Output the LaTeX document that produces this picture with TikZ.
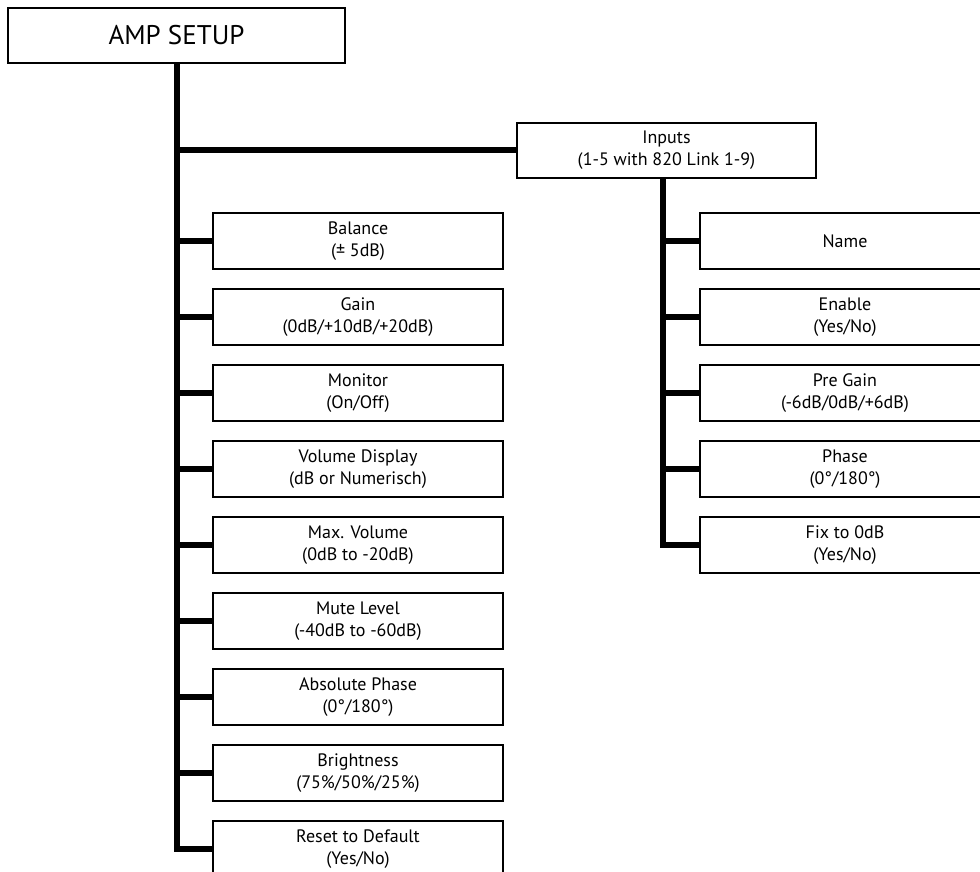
\documentclass[tikz,border=0pt]{standalone}
\usepackage{fontspec}
\setmainfont{PT Sans}
\usetikzlibrary{positioning}

\begin{document}
\begin{tikzpicture}[
  x=1pt, y=-1pt, node distance=20pt,
  box/.style={draw,line width=1.6pt,outer sep=0pt,inner sep=0pt,align=center,minimum width=290pt,minimum height=56pt,font=\fontsize{18}{22}\selectfont},
  link/.style={line width=6pt}]
\useasboundingbox (0,0) rectangle (980,872);
\clip (0,0) rectangle (980,872);
\node[box,minimum width=337pt,minimum height=55pt,font=\fontsize{27}{32}\selectfont] (amp) at (176.5,35.5) {AMP SETUP};
\node[box,minimum width=299pt,minimum height=55pt] (inputs) at (666.5,150.5) {Inputs\\(1-5 with 820 Link 1-9)};
% left column
\node[box] (bal) at (358,241) {Balance\\(± 5dB)};
\node[box,below=of bal] (gain) {Gain\\(0dB/+10dB/+20dB)};
\node[box,below=of gain] (mon) {Monitor\\(On/Off)};
\node[box,below=of mon] (voldisp) {Volume Display\\(dB or Numerisch)};
\node[box,below=of voldisp] (maxvol) {Max. Volume\\(0dB to -20dB)};
\node[box,below=of maxvol] (mute) {Mute Level\\(-40dB to -60dB)};
\node[box,below=of mute] (absph) {Absolute Phase\\(0°/180°)};
\node[box,below=of absph] (bright) {Brightness\\(75\%/50\%/25\%)};
\node[box,below=of bright] (reset) {Reset to Default\\(Yes/No)};
% right column
\node[box] (name) at (845,241) {Name};
\node[box,below=of name] (enable) {Enable\\(Yes/No)};
\node[box,below=of enable] (pregain) {Pre Gain\\(-6dB/0dB/+6dB)};
\node[box,below=of pregain] (phase) {Phase\\(0°/180°)};
\node[box,below=of phase] (fix) {Fix to 0dB\\(Yes/No)};
% main trunk
\draw[link] (amp.south) |- (reset.west);
\draw[link] (amp.south |- inputs.west) -- (inputs.west);
\draw[link] (amp.south |- bal.west) -- (bal.west);
\draw[link] (amp.south |- gain.west) -- (gain.west);
\draw[link] (amp.south |- mon.west) -- (mon.west);
\draw[link] (amp.south |- voldisp.west) -- (voldisp.west);
\draw[link] (amp.south |- maxvol.west) -- (maxvol.west);
\draw[link] (amp.south |- mute.west) -- (mute.west);
\draw[link] (amp.south |- absph.west) -- (absph.west);
\draw[link] (amp.south |- bright.west) -- (bright.west);
% inputs trunk
\coordinate (itrunk) at ([xshift=-4pt]inputs.south);
\draw[link] (itrunk) |- (fix.west);
\draw[link] (itrunk |- name.west) -- (name.west);
\draw[link] (itrunk |- enable.west) -- (enable.west);
\draw[link] (itrunk |- pregain.west) -- (pregain.west);
\draw[link] (itrunk |- phase.west) -- (phase.west);
\end{tikzpicture}
\end{document}
